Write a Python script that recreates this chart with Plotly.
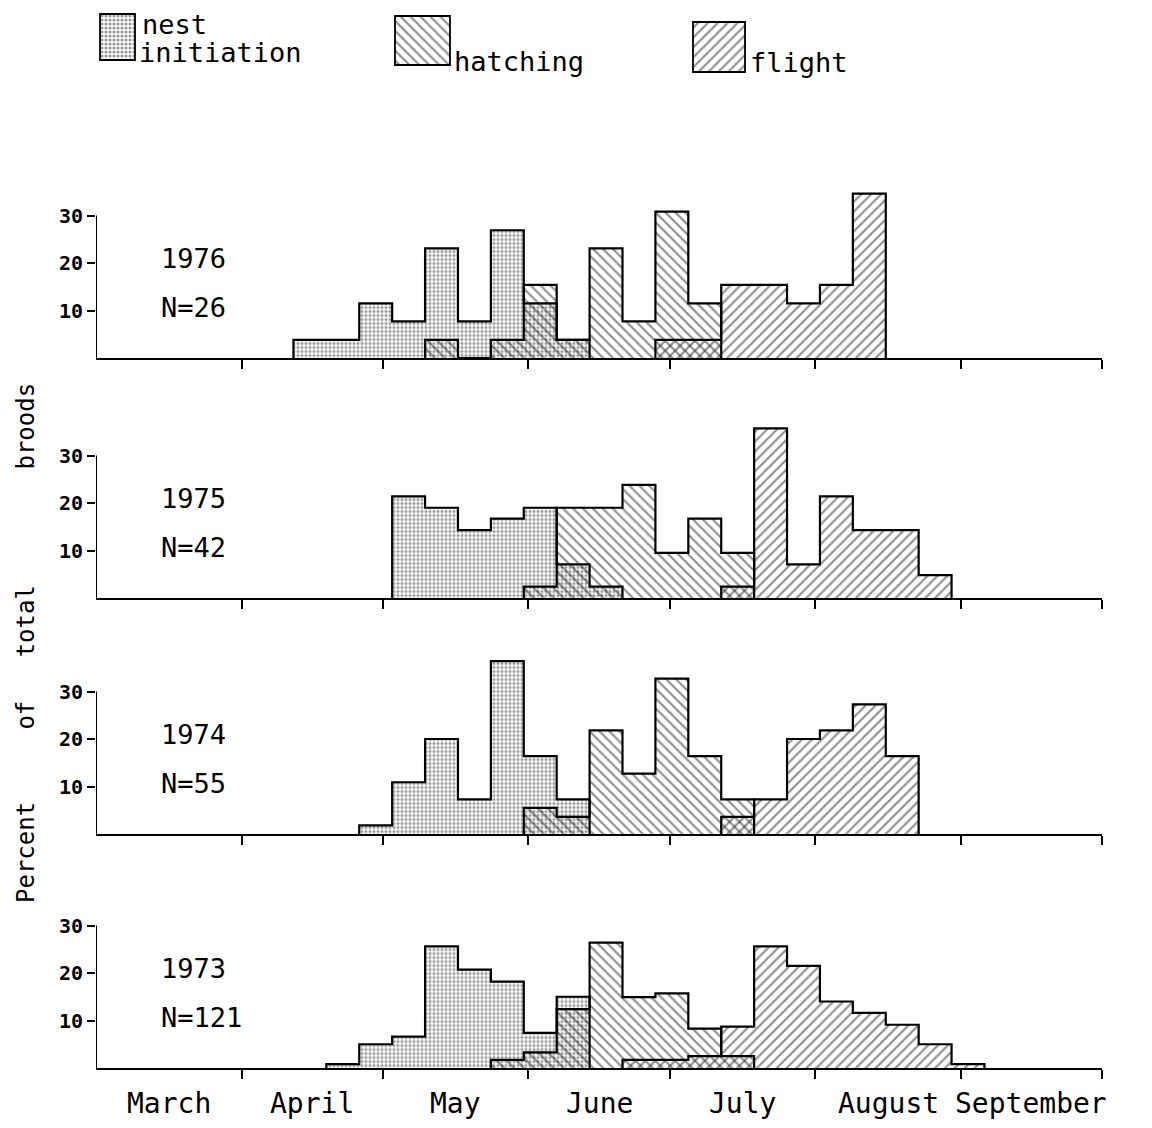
import plotly.graph_objects as go
from datetime import datetime

# ---------------- data ----------------
week_starts = ["Apr 12", "Apr 19", "Apr 26", "May 3", "May 10", "May 17", "May 24",
               "May 31", "Jun 7", "Jun 14", "Jun 21", "Jun 28", "Jul 5", "Jul 12",
               "Jul 19", "Jul 26", "Aug 2", "Aug 9", "Aug 16", "Aug 23", "Aug 30"]

years = ["1976", "1975", "1974", "1973"]
n_broods = [26, 42, 55, 121]

nest_1976 = [3.8, 3.8, 11.5, 7.7, 23.1, 7.7, 26.9, 11.5, 3.8, 0, 0, 0, 0, 0, 0, 0, 0, 0, 0, 0, 0]
hatch_1976 = [0, 0, 0, 0, 3.8, 0, 3.8, 15.4, 3.8, 23.1, 7.7, 30.8, 11.5, 0, 0, 0, 0, 0, 0, 0, 0]
flight_1976 = [0, 0, 0, 0, 0, 0, 0, 0, 0, 0, 0, 3.8, 3.8, 15.4, 15.4, 11.5, 15.4, 34.6, 0, 0, 0]

nest_1975 = [0, 0, 0, 21.4, 19.0, 14.3, 16.7, 19.0, 7.1, 2.4, 0, 0, 0, 0, 0, 0, 0, 0, 0, 0, 0]
hatch_1975 = [0, 0, 0, 0, 0, 0, 0, 2.4, 19.0, 19.0, 23.8, 9.5, 16.7, 9.5, 0, 0, 0, 0, 0, 0, 0]
flight_1975 = [0, 0, 0, 0, 0, 0, 0, 0, 0, 0, 0, 0, 0, 2.4, 35.7, 7.1, 21.4, 14.3, 14.3, 4.8, 0]

nest_1974 = [0, 0, 1.8, 10.9, 20.0, 7.3, 36.4, 16.4, 7.3, 0, 0, 0, 0, 0, 0, 0, 0, 0, 0, 0, 0]
hatch_1974 = [0, 0, 0, 0, 0, 0, 0, 5.5, 3.6, 21.8, 12.7, 32.7, 16.4, 7.3, 0, 0, 0, 0, 0, 0, 0]
flight_1974 = [0, 0, 0, 0, 0, 0, 0, 0, 0, 0, 0, 0, 0, 3.6, 7.3, 20.0, 21.8, 27.3, 16.4, 0, 0]

nest_1973 = [0, 0.8, 5.0, 6.6, 25.6, 20.7, 18.2, 7.4, 15.0, 0, 0, 0, 0, 0, 0, 0, 0, 0, 0, 0, 0]
hatch_1973 = [0, 0, 0, 0, 0, 0, 1.7, 3.3, 12.4, 26.4, 14.9, 15.7, 8.3, 2.5, 0, 0, 0, 0, 0, 0, 0]
flight_1973 = [0, 0, 0, 0, 0, 0, 0, 0, 0, 0, 1.7, 1.7, 2.5, 8.7, 25.6, 21.5, 14.0, 11.6, 9.1, 5.0, 0.8]

series_names = ["nest initiation", "hatching", "flight"]
panel_data = [
    [nest_1976, hatch_1976, flight_1976],
    [nest_1975, hatch_1975, flight_1975],
    [nest_1974, hatch_1974, flight_1974],
    [nest_1973, hatch_1973, flight_1973],
]

months = ["March", "April", "May", "June", "July", "August", "September"]
month_starts = ["Mar 1", "Apr 1", "May 1", "Jun 1", "Jul 1", "Aug 1", "Sep 1", "Oct 1"]
y_ticks = [10, 20, 30]

# ---------------- helpers ----------------
def season_day(s):
    d = datetime.strptime(s + " 2001", "%b %d %Y")
    return (d - datetime(2001, 3, 1)).days

bin_start = [season_day(s) for s in week_starts]
BIN_W = 7
month_days = [season_day(s) for s in month_starts]

W, H = 1152, 1128
OFF = 8  # page body margin


def px_x(p):
    return (p - OFF) / W


def px_y(p):
    return 1 - (p - OFF) / H


FONT = "DejaVu Sans Mono, Liberation Mono, monospace"

patterns = [
    dict(shape=".", size=4, solidity=0.5, fgcolor="#333333"),
    dict(shape="\\", size=7, solidity=0.32, fgcolor="#222222"),
    dict(shape="/", size=7, solidity=0.32, fgcolor="#222222"),
]

# panel zero line (screen px from top) and scale
baselines = [358, 598, 834, 1068]
PX_PER_UNIT = 4.75
Y_MAX = 38
X_LEFT, X_RIGHT = 96, 1102

fig = go.Figure()
layout = {}
annotations = []
shapes = []

for i, (yr, n, data) in enumerate(zip(years, n_broods, panel_data)):
    ax = "" if i == 0 else str(i + 1)
    xa, ya = "x" + ax, "y" + ax
    for j, vals in enumerate(data):
        nz = [k for k, v in enumerate(vals) if v > 0]
        if not nz:
            continue
        a, b = nz[0], nz[-1]
        xs = [bin_start[a]] + [bin_start[k] for k in range(a, b + 1)] + [bin_start[b] + BIN_W]
        ys = [0] + [vals[k] for k in range(a, b + 1)] + [0]
        fig.add_trace(go.Scatter(
            x=xs, y=ys, mode="lines", line=dict(shape="hv", color="black", width=2.2),
            fill="tozeroy", fillcolor="rgba(0,0,0,0)", fillpattern=patterns[j],
            xaxis=xa, yaxis=ya, showlegend=False, name=series_names[j] + " " + yr,
            hoverinfo="skip"))
    y0 = baselines[i]
    top = y0 - Y_MAX * PX_PER_UNIT
    layout["xaxis" + ax] = dict(
        domain=[px_x(X_LEFT), px_x(X_RIGHT)], range=[0, month_days[-1]], anchor=ya,
        showline=True, linecolor="black", linewidth=2, ticks="outside",
        tickvals=month_days[1:], ticklen=9, tickwidth=2, tickcolor="black",
        showticklabels=False, showgrid=False, zeroline=False)
    layout["yaxis" + ax] = dict(
        domain=[px_y(y0), px_y(top)], range=[0, Y_MAX], anchor=xa,
        showline=False, ticks="outside", tickvals=y_ticks, ticklen=8, tickwidth=2,
        tickcolor="black", showgrid=False, zeroline=False,
        tickfont=dict(family=FONT, size=20, color="black", weight="bold"))
    shapes.append(dict(type="line", xref=xa, yref=ya, x0=0, x1=0, y0=0, y1=y_ticks[-1],
                       line=dict(color="black", width=2)))
    annotations.append(dict(xref=xa, yref=ya, x=13.5, y=21, text=yr, showarrow=False,
                            xanchor="left", yanchor="middle",
                            font=dict(family=FONT, size=27, color="black")))
    annotations.append(dict(xref=xa, yref=ya, x=13.5, y=10.7, text="N=%d" % n, showarrow=False,
                            xanchor="left", yanchor="middle",
                            font=dict(family=FONT, size=27, color="black")))

# month labels under bottom panel
for m, a, b in zip(months, month_days[:-1], month_days[1:]):
    annotations.append(dict(xref="x4", yref="paper", x=(a + b) / 2, y=px_y(1103), text=m,
                            showarrow=False, xanchor="center", yanchor="middle",
                            font=dict(family=FONT, size=28, color="black")))

# y title
nb = "\u00a0"
title = "Percent" + nb * 5 + "of" + nb * 3 + "total" + nb * 8 + "broods"
annotations.append(dict(xref="paper", yref="paper", x=px_x(26), y=px_y(643), text=title,
                        textangle=-90, showarrow=False, xanchor="center", yanchor="middle",
                        font=dict(family=FONT, size=24, color="black")))

# legend (pattern swatches drawn in a small auxiliary axis, coordinates = screen px)
leg_cx = [117.5, 422.5, 719]
leg_w = [35, 55, 52]
leg_top = [14, 16, 22]
leg_h = [46, 49, 50]
for j in range(3):
    fig.add_trace(go.Bar(x=[leg_cx[j]], y=[leg_h[j]], base=[leg_top[j]], width=[leg_w[j]],
                         marker=dict(color="rgba(0,0,0,0)", pattern=patterns[j],
                                     line=dict(color="black", width=1.8)),
                         xaxis="x5", yaxis="y5", showlegend=False, hoverinfo="skip",
                         name=series_names[j]))
layout["xaxis5"] = dict(domain=[0, 1], range=[OFF, W + OFF], visible=False, anchor="y5")
layout["yaxis5"] = dict(domain=[px_y(80), px_y(10)], range=[80, 10], visible=False, anchor="x5")

leg_text = [("nest", 140, 24), ("initiation", 137, 53), ("hatching", 452, 61), ("flight", 748, 63)]
for t, x, y in leg_text:
    annotations.append(dict(xref="paper", yref="paper", x=px_x(x), y=px_y(y), text=t,
                            showarrow=False, xanchor="left", yanchor="middle",
                            font=dict(family=FONT, size=27, color="black")))

fig.update_layout(
    width=W, height=H, margin=dict(l=0, r=0, t=0, b=0),
    paper_bgcolor="white", plot_bgcolor="rgba(0,0,0,0)",
    annotations=annotations, shapes=shapes, barmode="overlay",
    **layout)

fig.write_html("out.html")
